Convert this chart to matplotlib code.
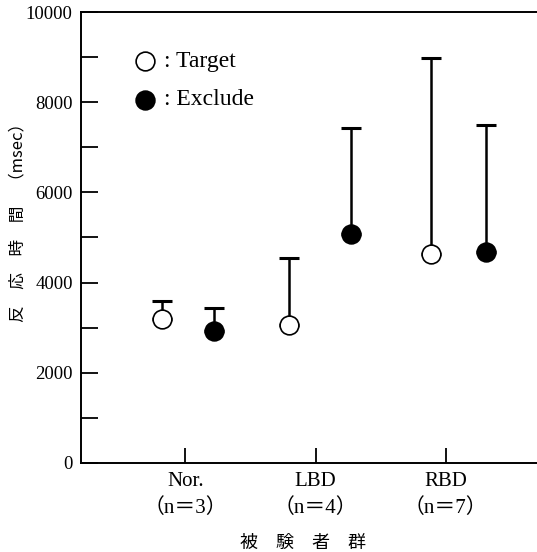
import matplotlib
matplotlib.use("Agg")
import matplotlib.pyplot as plt
import numpy as np

groups = ["Nor.", "LBD", "RBD"]
group_n = ["（n＝3）", "（n＝4）", "（n＝7）"]
target_mean = [3200, 3050, 4630]
target_upper = [3600, 4550, 8980]
exclude_mean = [2920, 5070, 4670]
exclude_upper = [3440, 7440, 7490]
yticks_major = [0, 2000, 4000, 6000, 8000, 10000]
yticks_minor = [1000, 3000, 5000, 7000, 9000]

serif = ["Liberation Serif", "Noto Sans CJK JP"]
cjk = ["Noto Sans CJK JP", "Liberation Serif"]

fig = plt.figure(figsize=(5.37, 5.52), dpi=100)
ax = fig.add_axes([0.1508, 0.1618, 0.8492, 0.816])

xc = np.arange(1, len(groups) + 1)
t_off = np.array([-0.18, -0.20, -0.115])
e_off = np.array([0.22, 0.27, 0.31])
xt = xc + t_off
xe = xc + e_off

t_err = np.array(target_upper) - np.array(target_mean)
e_err = np.array(exclude_upper) - np.array(exclude_mean)

ax.errorbar(xt, target_mean, yerr=[np.zeros(3), t_err], fmt="none",
            ecolor="black", elinewidth=1.8, capsize=7.5, capthick=2.2, zorder=2)
ax.errorbar(xe, exclude_mean, yerr=[np.zeros(3), e_err], fmt="none",
            ecolor="black", elinewidth=1.8, capsize=7.5, capthick=2.2, zorder=2)
ax.plot(xt, target_mean, "o", ms=13.5, mfc="white", mec="black", mew=1.2, zorder=3)
ax.plot(xe, exclude_mean, "o", ms=13.5, mfc="black", mec="black", mew=1.2, zorder=3)

ax.set_xlim(0.2, 3.7)
ax.set_ylim(0, 10000)
ax.set_yticks(yticks_major)
ax.set_yticks(yticks_minor, minor=True)
ax.set_yticklabels([str(v) for v in yticks_major], family=serif, fontsize=13.5)
ax.set_xticks(xc)
ax.set_xticklabels([f"{g}\n{n}" for g, n in zip(groups, group_n)],
                   family=serif, fontsize=15, linespacing=1.45)
ax.tick_params(axis="y", which="both", direction="in", length=12, width=1.3, pad=6)
ax.tick_params(axis="x", direction="in", length=11, width=1.3, pad=7)

for s in ["left", "bottom", "top"]:
    ax.spines[s].set_linewidth(1.4)
ax.spines["right"].set_visible(False)

# legend
ax.plot([0.69], [8910], "o", ms=13.5, mfc="white", mec="black", mew=1.2, clip_on=False)
ax.plot([0.69], [8060], "o", ms=13.5, mfc="black", mec="black", mew=1.2, clip_on=False)
ax.text(0.84, 8910, ": Target", family=serif, fontsize=17, va="center", ha="left")
ax.text(0.84, 8060, ": Exclude", family=serif, fontsize=17, va="center", ha="left")

fig.text(0.034, 0.605, "反　応　時　間　（msec）", family=cjk, fontsize=12,
         rotation=90, ha="center", va="center")
fig.text(0.565, 0.0163, "被　験　者　群", family=cjk, fontsize=13,
         ha="center", va="center")

fig.savefig("out.png", dpi=100)
